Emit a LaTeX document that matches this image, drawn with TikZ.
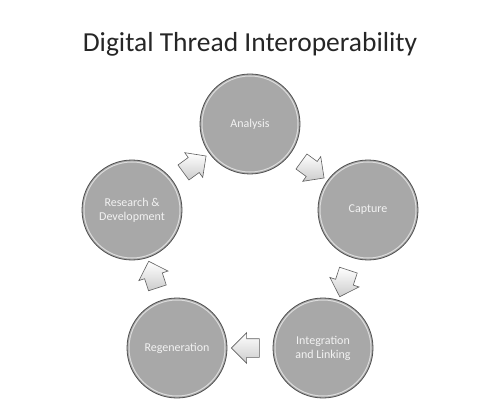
\documentclass[tikz,border=0pt]{standalone}
\usepackage{fontspec}
\setmainfont{Carlito}
\usepackage{xcolor}
\usepackage{tikz}
\usetikzlibrary{shapes.arrows}

\definecolor{stagegray}{RGB}{168,168,168}
\definecolor{stageedge}{RGB}{80,80,80}
\definecolor{flowedge}{RGB}{95,95,95}

\tikzset{
	stage/.style={circle, minimum size=100pt, inner sep=0pt, fill=stagegray, draw=stageedge, line width=0.8pt,
		text=white!95!black, font=\fontsize{12}{14}\selectfont, align=center,
		path picture={\draw[white, opacity=0.6, line width=1pt] (path picture bounding box.center) circle (48pt);}},
	flow/.style={single arrow, single arrow head extend=6pt, minimum height=28pt, minimum width=30pt,
		inner xsep=0pt, inner ysep=9pt,
		draw=flowedge, line width=0.6pt, top color=white, bottom color=gray!40, sloped, allow upside down}
}

\begin{document}
\begin{tikzpicture}[x=1pt, y=1pt]
				\useasboundingbox (0,0) rectangle (500,402);
				\node[anchor=base, font=\fontsize{27.5}{32}\selectfont, text=black!85] (title) at (250,350) {Digital Thread Interoperability};
				% five stages round the cycle
				\node[stage] (ana) at (250,278) {Analysis};
				\node[stage] (cap) at (368,192) {Capture};
				\node[stage] (int) at (323,54) {Integration\\and Linking};
				\node[stage] (reg) at (177,54) {Regeneration};
				\node[stage] (rnd) at (132,192) {Research \&\\Development};
				% block arrows between them
				\path (ana) -- (cap) node[flow, midway] (f1) {};
				\path (cap) -- (int) node[flow, midway] (f2) {};
				\path (int) -- (reg) node[flow, midway] (f3) {};
				\path (reg) -- (rnd) node[flow, midway] (f4) {};
				\path (rnd) -- (ana) node[flow, midway] (f5) {};
			\end{tikzpicture}
\end{document}
